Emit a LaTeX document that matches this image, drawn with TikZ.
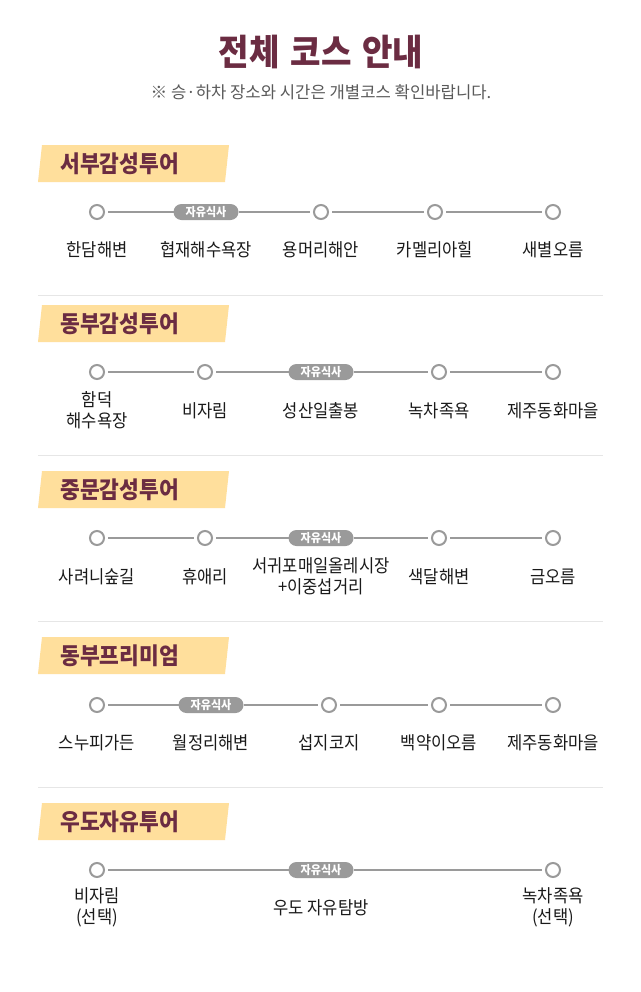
\documentclass[tikz,border=0pt]{standalone}
\usepackage{fontspec}
\setmainfont{Noto Sans CJK KR}
\newfontfamily\krc{Noto Sans CJK KR}[FakeStretch=0.92]
\definecolor{maroon}{HTML}{6B2C42}
\definecolor{band}{HTML}{FFDF9C}
\definecolor{stopgray}{HTML}{9A9A9A}
\definecolor{sepgray}{HTML}{E6E6E6}
\definecolor{subgray}{HTML}{5A5A5A}
\definecolor{txt}{HTML}{1A1A1A}
\tikzset{
  stop/.style={circle, draw=stopgray, fill=white, line width=1.5pt, minimum size=10.5pt, inner sep=0pt, outer sep=3pt},
  pill/.style={rectangle, rounded corners=6pt, fill=stopgray, text=white, minimum width=48.75pt, minimum height=12pt, inner sep=0pt, outer sep=0pt, font=\krc\bfseries\fontsize{9}{10}\selectfont},
  conn/.style={draw=stopgray, line width=1.5pt},
  lbl/.style={text=txt, align=center, inner sep=0pt, yshift=-1.2pt, text height=10.5pt, text depth=2pt, font=\krc\fontsize{13.5}{15.75}\selectfont},
  lbltwo/.style={text=txt, align=center, inner sep=0pt, font=\krc\fontsize{13.5}{15.75}\selectfont},
  bandtxt/.style={text=maroon, anchor=west, inner sep=0pt, font=\krc\bfseries\fontsize{17.5}{19}\selectfont},
  sep/.style={draw=sepgray, line width=0.75pt}
}
\begin{document}
\begin{tikzpicture}[x=0.75pt,y=-0.75pt]
\useasboundingbox (0,0) rectangle (640,992);
\fill[white] (0,0) rectangle (640,992);
% title
\node[text=maroon, inner sep=0pt, font=\krc\bfseries\fontsize{27}{30}\selectfont] (title) at (321,52) {전체\hspace{8pt}코스\hspace{8pt}안내};
\node[text=subgray, inner sep=0pt, font=\fontsize{12.5}{14}\selectfont] (subtitle) at (321,92) {※ 승·하차 장소와 시간은 개별코스 확인바랍니다.};

% ===== Section 1 =====
\fill[band] (42,145) -- (229,145) -- (225,182) -- (38,182) -- cycle;
\node[bandtxt] (b1) at (60,164) {서부감성투어};
\node[stop] (s1a) at (97,212) {};
\node[pill] (s1b) at (206,212) {자유식사};
\node[stop] (s1c) at (321,212) {};
\node[stop] (s1d) at (435,212) {};
\node[stop] (s1e) at (553,212) {};
\draw[conn] (s1a) -- (s1b);
\draw[conn] (s1b) -- (s1c);
\draw[conn] (s1c) -- (s1d);
\draw[conn] (s1d) -- (s1e);
\node[lbl] (l1a) at (97,249) {한담해변};
\node[lbl] (l1b) at (206,249) {협재해수욕장};
\node[lbl] (l1c) at (321,249) {용머리해안};
\node[lbl] (l1d) at (435,249) {카멜리아힐};
\node[lbl] (l1e) at (553,249) {새별오름};
\coordinate (sp1a) at (38,295.5);
\coordinate (sp1b) at (603,295.5);
\draw[sep] (sp1a) -- (sp1b);

% ===== Section 2 =====
\fill[band] (42,305) -- (229,305) -- (225,342) -- (38,342) -- cycle;
\node[bandtxt] (b2) at (60,324) {동부감성투어};
\node[stop] (s2a) at (97,372) {};
\node[stop] (s2b) at (205,372) {};
\node[pill] (s2c) at (321,372) {자유식사};
\node[stop] (s2d) at (439,372) {};
\node[stop] (s2e) at (553,372) {};
\draw[conn] (s2a) -- (s2b);
\draw[conn] (s2b) -- (s2c);
\draw[conn] (s2c) -- (s2d);
\draw[conn] (s2d) -- (s2e);
\node[lbltwo] (l2a) at (97,410) {함덕\\해수욕장};
\node[lbl] (l2b) at (205,410) {비자림};
\node[lbl] (l2c) at (321,410) {성산일출봉};
\node[lbl] (l2d) at (439,410) {녹차족욕};
\node[lbl] (l2e) at (553,410) {제주동화마을};
\coordinate (sp2a) at (38,455.5);
\coordinate (sp2b) at (603,455.5);
\draw[sep] (sp2a) -- (sp2b);

% ===== Section 3 =====
\fill[band] (42,471) -- (229,471) -- (225,508) -- (38,508) -- cycle;
\node[bandtxt] (b3) at (60,490) {중문감성투어};
\node[stop] (s3a) at (97,538) {};
\node[stop] (s3b) at (205,538) {};
\node[pill] (s3c) at (321,538) {자유식사};
\node[stop] (s3d) at (439,538) {};
\node[stop] (s3e) at (553,538) {};
\draw[conn] (s3a) -- (s3b);
\draw[conn] (s3b) -- (s3c);
\draw[conn] (s3c) -- (s3d);
\draw[conn] (s3d) -- (s3e);
\node[lbl] (l3a) at (97,576) {사려니숲길};
\node[lbl] (l3b) at (205,576) {휴애리};
\node[lbltwo] (l3c) at (321,576) {서귀포매일올레시장\\+이중섭거리};
\node[lbl] (l3d) at (439,576) {색달해변};
\node[lbl] (l3e) at (553,576) {금오름};
\coordinate (sp3a) at (38,621.5);
\coordinate (sp3b) at (603,621.5);
\draw[sep] (sp3a) -- (sp3b);

% ===== Section 4 =====
\fill[band] (42,637) -- (229,637) -- (225,674) -- (38,674) -- cycle;
\node[bandtxt] (b4) at (60,656) {동부프리미엄};
\node[stop] (s4a) at (97,705) {};
\node[pill] (s4b) at (211,705) {자유식사};
\node[stop] (s4c) at (329,705) {};
\node[stop] (s4d) at (439,705) {};
\node[stop] (s4e) at (553,705) {};
\draw[conn] (s4a) -- (s4b);
\draw[conn] (s4b) -- (s4c);
\draw[conn] (s4c) -- (s4d);
\draw[conn] (s4d) -- (s4e);
\node[lbl] (l4a) at (97,742) {스누피가든};
\node[lbl] (l4b) at (211,742) {월정리해변};
\node[lbl] (l4c) at (329,742) {섭지코지};
\node[lbl] (l4d) at (439,742) {백약이오름};
\node[lbl] (l4e) at (553,742) {제주동화마을};
\coordinate (sp4a) at (38,787.5);
\coordinate (sp4b) at (603,787.5);
\draw[sep] (sp4a) -- (sp4b);

% ===== Section 5 =====
\fill[band] (42,803) -- (229,803) -- (225,840) -- (38,840) -- cycle;
\node[bandtxt] (b5) at (60,822) {우도자유투어};
\node[stop] (s5a) at (97,870) {};
\node[pill] (s5b) at (321,870) {자유식사};
\node[stop] (s5c) at (553,870) {};
\draw[conn] (s5a) -- (s5b);
\draw[conn] (s5b) -- (s5c);
\node[lbltwo] (l5a) at (97,907) {비자림\\(선택)};
\node[lbl] (l5b) at (321,907) {우도 자유탐방};
\node[lbltwo] (l5c) at (553,907) {녹차족욕\\(선택)};
\end{tikzpicture}
\end{document}
